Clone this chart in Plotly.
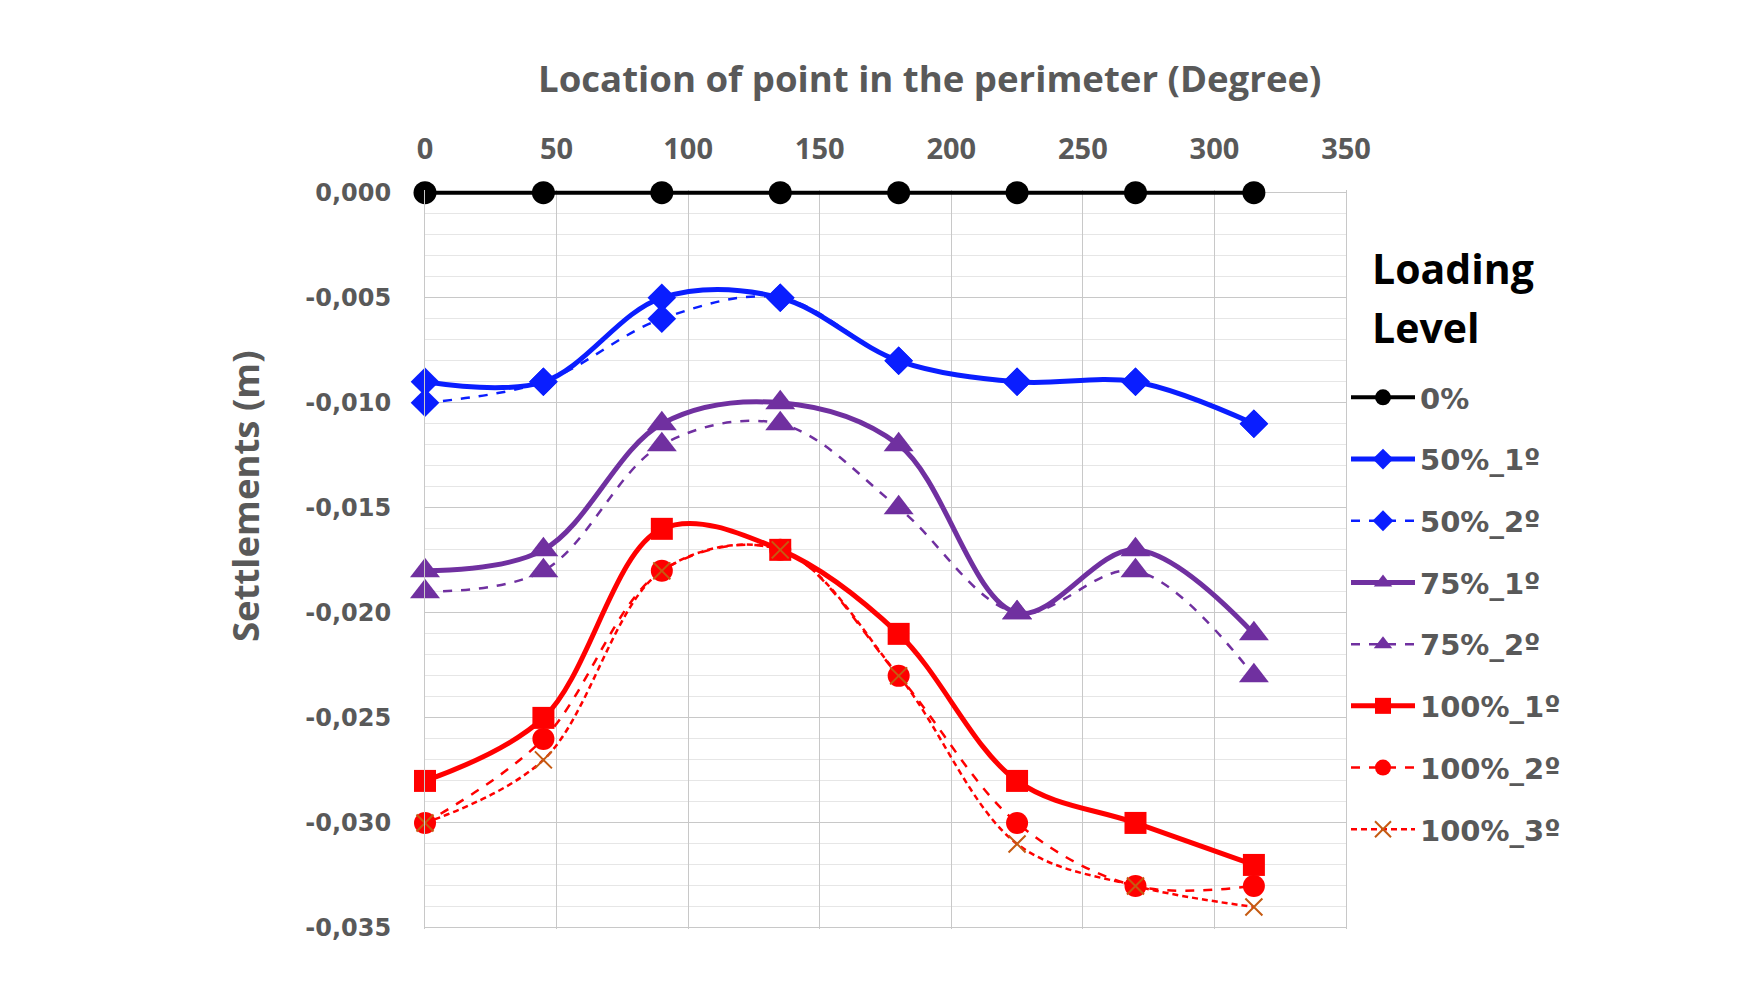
import plotly.graph_objects as go

# ---- data ----
degrees = [0, 45, 90, 135, 180, 225, 270, 315]

s_0 = [0.0, 0.0, 0.0, 0.0, 0.0, 0.0, 0.0, 0.0]
s_50_1 = [-0.009, -0.009, -0.005, -0.005, -0.008, -0.009, -0.009, -0.011]
s_50_2 = [-0.010, -0.009, -0.006, -0.005, -0.008, -0.009, -0.009, -0.011]
s_75_1 = [-0.018, -0.017, -0.011, -0.010, -0.012, -0.020, -0.017, -0.021]
s_75_2 = [-0.019, -0.018, -0.012, -0.011, -0.015, -0.020, -0.018, -0.023]
s_100_1 = [-0.028, -0.025, -0.016, -0.017, -0.021, -0.028, -0.030, -0.032]
s_100_2 = [-0.030, -0.026, -0.018, -0.017, -0.023, -0.030, -0.033, -0.033]
s_100_3 = [-0.030, -0.027, -0.018, -0.017, -0.023, -0.031, -0.033, -0.034]

series_names = ["0%", "50%_1º", "50%_2º", "75%_1º", "75%_2º", "100%_1º", "100%_2º", "100%_3º"]

x_tickvals = [0, 50, 100, 150, 200, 250, 300, 350]
y_tickvals = [0.0, -0.005, -0.010, -0.015, -0.020, -0.025, -0.030, -0.035]
y_ticktext = ["0,000", "-0,005", "-0,010", "-0,015", "-0,020", "-0,025", "-0,030", "-0,035"]

x_title = "Location of point in the perimeter (Degree)"
y_title = "Settlements (m)"
legend_title_lines = ["Loading", "Level"]

# ---- styles ----
BLACK = "#000000"
BLUE = "#0A1EFF"
PURPLE = "#7030A0"
RED = "#FF0000"
XCOL = "#C55A11"
GRAY_TXT = "#595959"

styles = [
    dict(color=BLACK, width=4, dash="solid", symbol="circle", size=23, mline=None),
    dict(color=BLUE, width=5, dash="solid", symbol="diamond", size=22, mline=None),
    dict(color=BLUE, width=2.5, dash="dash", symbol="diamond", size=22, mline=None),
    dict(color=PURPLE, width=5, dash="solid", symbol="triangle-up", size=26, mline=None),
    dict(color=PURPLE, width=2.5, dash="dash", symbol="triangle-up", size=26, mline=None),
    dict(color=RED, width=5, dash="solid", symbol="square", size=22, mline=None),
    dict(color=RED, width=2.5, dash="dash", symbol="circle", size=22, mline=None),
    dict(color=RED, width=2.5, dash="6px,4px", symbol="x-thin", size=17, mline=XCOL),
]

all_series = [s_0, s_50_1, s_50_2, s_75_1, s_75_2, s_100_1, s_100_2, s_100_3]

fig = go.Figure()
for i, (name, ys, st) in enumerate(zip(series_names, all_series, styles)):
    marker = dict(symbol=st["symbol"], size=st["size"], color=st["color"])
    if st["mline"]:
        marker["line"] = dict(color=st["mline"], width=2)
    else:
        marker["line"] = dict(width=0)
    fig.add_trace(go.Scatter(
        x=degrees, y=ys, name=name, mode="lines+markers",
        line=dict(color=st["color"], width=st["width"], dash=st["dash"],
                  shape="spline", smoothing=1.0),
        marker=marker, legendgroup=f"g{i}", cliponaxis=False,
    ))

# small headroom above 0 so the 0% line is not clipped, and below the
# last gridline so it is drawn
Y_TOP = 0.00013
Y_BOT = -0.03505
L, R = 425, 404
px_per_unit = (928 - 193) / 0.035
T = int(round(193 - Y_TOP * px_per_unit))
B = int(round(1000 - 928 - (-0.035 - Y_BOT) * px_per_unit))
plot_h = 1000 - T - B


def ypaper(py):
    return (1000 - B - py) / plot_h


fig.update_layout(
    width=1750, height=1000,
    margin=dict(l=L, r=R, t=T, b=B, pad=0),
    paper_bgcolor="white", plot_bgcolor="white",
    showlegend=True,
    legend=dict(
        x=1.0, xanchor="left", y=ypaper(372), yanchor="top",
        font=dict(family="DejaVu Sans", size=29, color=GRAY_TXT, weight="bold"),
        tracegroupgap=21, itemwidth=64, bgcolor="rgba(0,0,0,0)",
        itemclick=False,
    ),
    xaxis=dict(
        range=[0, 350], side="top", tickvals=x_tickvals,
        showgrid=True, gridcolor="#C8C8C8", gridwidth=1,
        showline=False, zeroline=False, ticks="", ticklabelstandoff=24,
        tickfont=dict(family="Open Sans", size=29, color=GRAY_TXT, weight="bold"),
    ),
    yaxis=dict(
        range=[Y_BOT, Y_TOP], tickvals=y_tickvals, ticktext=y_ticktext,
        showgrid=True, gridcolor="#C8C8C8", gridwidth=1,
        minor=dict(dtick=0.001, showgrid=True, gridcolor="#E6E6E6", gridwidth=1, ticks=""),
        showline=True, linecolor="#C8C8C8", linewidth=1, mirror=True,
        zeroline=False, ticks="", ticklabelstandoff=28,
        tickfont=dict(family="DejaVu Sans", size=24, color=GRAY_TXT, weight="bold"),
    ),
    annotations=[
        dict(text=x_title, xref="paper", yref="paper", x=0.548, y=ypaper(78),
             xanchor="center", yanchor="middle", showarrow=False,
             font=dict(family="Open Sans", size=36.6, color=GRAY_TXT, weight="bold")),
        dict(text=y_title, xref="paper", yref="paper", x=(245 - 425) / 921, y=ypaper(496),
             xanchor="center", yanchor="middle", showarrow=False, textangle=-90,
             font=dict(family="Open Sans", size=36.5, color=GRAY_TXT, weight="bold")),
        dict(text=legend_title_lines[0], xref="paper", yref="paper", x=(1370 - 425) / 921,
             y=ypaper(268), xanchor="left", yanchor="middle", showarrow=False,
             font=dict(family="Open Sans", size=41, color="#000000", weight="bold")),
        dict(text=legend_title_lines[1], xref="paper", yref="paper", x=(1370 - 425) / 921,
             y=ypaper(327), xanchor="left", yanchor="middle", showarrow=False,
             font=dict(family="Open Sans", size=41, color="#000000", weight="bold")),
    ],
)

fig.write_html("out.html")
